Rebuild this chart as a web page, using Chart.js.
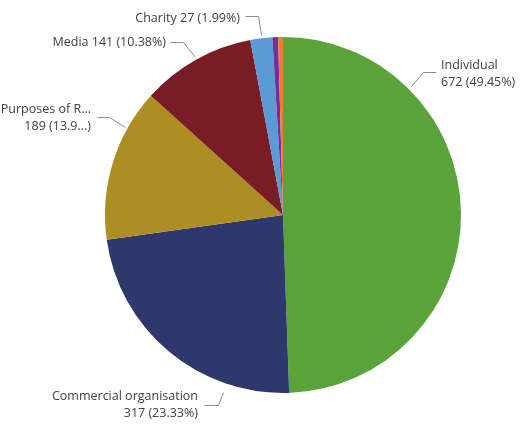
<!DOCTYPE html>
<html>
<head>
<meta charset="utf-8">
<script src="https://cdn.jsdelivr.net/npm/chart.js@4/dist/chart.umd.min.js"></script>
<style>
  html, body { margin: 0; padding: 0; background: #fff; }
  canvas { display: block; }
</style>
</head>
<body>
<canvas id="pie-chart" width="523" height="431"></canvas>
<script>
// data
const categories = ["Individual", "Commercial organisation", "Purposes of Research", "Media", "Charity", "Other", "Unknown"];
const values = [672, 317, 189, 141, 27, 7, 6];
const colors = ["#5aa23a", "#2e386c", "#ae8e22", "#7a1c25", "#5b9bd5", "#7030a0", "#ed7d31"];

const total = values.reduce((a, b) => a + b, 0);

// where each callout goes (index into the arrays above)
// clip = [chars kept of the name, chars kept of the percentage]
const callouts = [
  { i: 0, align: "left",  text: [441, 65], lines: 2, path: [[436, 72], [423, 72], [411, 86]] },
  { i: 1, align: "right", text: [198, 396], lines: 2, path: [[204, 405], [218, 405], [223, 392]] },
  { i: 2, align: "right", text: [91, 109], lines: 2, clip: [13, 4], path: [[97, 117], [109, 117], [125, 127]] },
  { i: 3, align: "right", text: [166, 42], lines: 1, path: [[170, 42], [183, 42], [195, 57]] },
  { i: 4, align: "right", text: [240, 18], lines: 1, path: [[245, 16], [258, 16], [261, 35]] }
];

function clip(s, n) {
  return n && s.length > n ? s.slice(0, n) + "..." : s;
}

const calloutPlugin = {
  id: "callouts",
  afterDraw(chart) {
    const ctx = chart.ctx;
    ctx.save();
    ctx.font = "12.5px 'Open Sans'";
    ctx.fillStyle = "#404040";
    ctx.strokeStyle = "#8c8c8c";
    ctx.lineWidth = 1;
    callouts.forEach(c => {
      ctx.beginPath();
      c.path.forEach((p, k) => k ? ctx.lineTo(p[0] + 0.5, p[1] + 0.5) : ctx.moveTo(p[0] + 0.5, p[1] + 0.5));
      ctx.stroke();

      const cl = c.clip || [0, 0];
      const v = values[c.i];
      const name = clip(categories[c.i], cl[0]);
      const pct = clip((v / total * 100).toFixed(2) + "%", cl[1]);
      const rows = c.lines === 2
        ? [name, v + " (" + pct + ")"]
        : [name + " " + v + " (" + pct + ")"];
      ctx.textAlign = c.align;
      ctx.textBaseline = "middle";
      rows.forEach((r, k) => ctx.fillText(r, c.text[0], c.text[1] + k * 17));
    });
    ctx.restore();
  }
};

new Chart(document.getElementById("pie-chart"), {
  type: "pie",
  data: {
    labels: categories,
    datasets: [{
      data: values,
      backgroundColor: colors,
      borderWidth: 0
    }]
  },
  options: {
    responsive: false,
    animation: false,
    layout: { padding: { top: 37, bottom: 38, left: 105, right: 62 } },
    plugins: {
      legend: { display: false },
      tooltip: { enabled: false }
    }
  },
  plugins: [calloutPlugin]
});
</script>
</body>
</html>
